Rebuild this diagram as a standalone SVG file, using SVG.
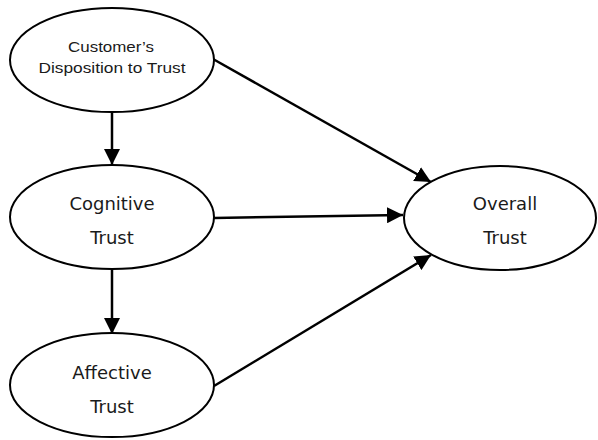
<svg xmlns="http://www.w3.org/2000/svg" width="598" height="440" viewBox="0 0 598 440">
<style>
.node ellipse{fill:#fff;stroke:#000;stroke-width:2}
.cal{font-family:"Liberation Sans",Arial,sans-serif;font-size:15px;fill:#1a1a1a;text-anchor:middle}
.tah{font-family:"DejaVu Sans",Verdana,sans-serif;font-size:18px;fill:#1a1a1a;text-anchor:middle}
.edges line{stroke:#000;stroke-width:2.5;fill:none}
</style>
<defs>
<marker id="arr" markerUnits="userSpaceOnUse" markerWidth="16" markerHeight="16" refX="16" refY="8" orient="auto">
<path d="M0,0 L16,8 L0,16 Z" fill="#000"/>
</marker>
</defs>
<rect width="598" height="440" fill="#fff"/>
<g class="edges">
<line x1="112" y1="113" x2="112" y2="165" marker-end="url(#arr)"/>
<line x1="112" y1="270" x2="112" y2="334" marker-end="url(#arr)"/>
<line x1="213" y1="59" x2="431" y2="182" marker-end="url(#arr)"/>
<line x1="214" y1="218" x2="403" y2="215" marker-end="url(#arr)"/>
<line x1="214" y1="386" x2="431" y2="255" marker-end="url(#arr)"/>
</g>
<g id="disposition" class="node">
<ellipse cx="112" cy="60" rx="102" ry="52"/>
<text class="cal" x="111" y="52" textLength="86" lengthAdjust="spacingAndGlyphs">Customer’s</text>
<text class="cal" x="112" y="73" textLength="147" lengthAdjust="spacingAndGlyphs">Disposition to Trust</text>
</g>
<g id="cognitive" class="node">
<ellipse cx="112" cy="217" rx="102" ry="52"/>
<text class="tah" x="112" y="210">Cognitive</text>
<text class="tah" x="112" y="244">Trust</text>
</g>
<g id="affective" class="node">
<ellipse cx="112" cy="385" rx="102" ry="52"/>
<text class="tah" x="112" y="379">Affective</text>
<text class="tah" x="112" y="413">Trust</text>
</g>
<g id="overall" class="node">
<ellipse cx="500" cy="218" rx="96" ry="52"/>
<text class="tah" x="505" y="210">Overall</text>
<text class="tah" x="505" y="244">Trust</text>
</g>
</svg>
